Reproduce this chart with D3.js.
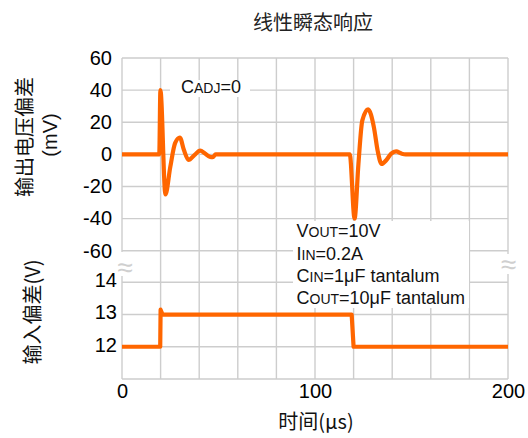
<!DOCTYPE html>
<html><head><meta charset="utf-8">
<script src="https://cdn.jsdelivr.net/npm/d3@7"></script>
<style>
html,body{margin:0;padding:0;background:#fff;}
svg{display:block;}
</style></head>
<body>
<svg id="c" width="528" height="438"></svg>
<script>
// ---- data ----
const chartTitle = "线性瞬态响应";
const xTitle = "时间(μs)";
const yTitleTop = ["输出电压偏差", "(mV)"];
const yTitleBottom = "输入偏差(V)";
const xTicksLabeled = [0, 100, 200];
const xGridTicks = [0, 20, 40, 60, 80, 100, 120, 140, 160, 180, 200];
const topTicks = [60, 40, 20, 0, -20, -40, -60];
const bottomTicks = [14, 13, 12];
const bottomGrid = [14, 13, 12, 11];
// output voltage deviation (mV) vs time (µs)
const outTime = [0, 19.3, 19.9, 22.5, 25, 27.5, 30, 32, 34.5, 37.5, 40.5, 43, 45.5, 47, 48.5, 118, 120.5, 122.5, 124.5, 127.5, 130.5, 132.5, 134.5, 137, 139.5, 142, 145, 147, 200];
const outDev  = [0, 0, 40, -25, -8, 7, 10.5, 3, -3.5, -0.5, 2.3, 0.5, -1.5, -1.8, 0, 0, -40, -6, 21, 28, 17, 2, -6, -3.5, 0.5, 1.8, 0.4, 0, 0];
// input voltage (V) vs time (µs)
const inTime = [0, 19.8, 20, 21, 119, 120, 200];
const inVolt = [12, 12, 13.15, 13, 13, 12, 12];
const condLines = [["V","OUT","=10V"],["I","IN","=0.2A"],["C","IN","=1μF tantalum"],["C","OUT","=10μF tantalum"]];
const cadjLabel = ["C","ADJ","=0"];

// ---- layout ----
const svg = d3.select("#c");
const L = 122, R = 508, T = 58, B = 379;
const x = d3.scaleLinear().domain([0, 200]).range([L, R]);
const yTop = d3.scaleLinear().domain([-60, 60]).range([250.7, T]);
const yBot = d3.scaleLinear().domain([11, 14]).range([B, 282.3]);
const gridColor = "#cdcdcd";
const orange = "#ff6600";
const numFont = "'Liberation Sans', Arial, sans-serif";
const cjkFont = "'Noto Sans CJK SC', 'Liberation Sans', sans-serif";
const fmt = d => String(d);

// grid
const grid = svg.append("g").attr("stroke", gridColor).attr("stroke-width", 1.4);
grid.selectAll("line.v").data(xGridTicks).join("line").attr("class","v")
  .attr("x1", d => x(d)).attr("x2", d => x(d)).attr("y1", T).attr("y2", B);
grid.selectAll("line.ht").data(topTicks).join("line").attr("class","ht")
  .attr("x1", L).attr("x2", R).attr("y1", d => yTop(d)).attr("y2", d => yTop(d));
grid.selectAll("line.hb").data(bottomGrid).join("line").attr("class","hb")
  .attr("x1", L).attr("x2", R).attr("y1", d => yBot(d)).attr("y2", d => yBot(d));

// break marks
[[125, 268, 252, 276], [508.5, 265, 254, 274]].forEach(([cx, cy, y0, y1]) => {
  svg.append("rect").attr("x", cx - 8).attr("y", y0).attr("width", 16).attr("height", y1 - y0).attr("fill", "#fff");
  svg.append("text").attr("x", cx).attr("y", cy + 9).attr("text-anchor", "middle")
    .attr("font-family", numFont).attr("font-size", 28).attr("fill", "#cfcfcf").text("≈");
});

// annotation boxes
svg.append("rect").attr("x", 170).attr("y", 80).attr("width", 80).attr("height", 17).attr("fill", "#fff");
svg.append("rect").attr("x", 293).attr("y", 221).attr("width", 176).attr("height", 87).attr("fill", "#fff");

function smallCaps(parts, xx, yy, big, small) {
  const t = svg.append("text").attr("x", xx).attr("y", yy).attr("font-family", numFont).attr("fill", "#111");
  t.append("tspan").attr("font-size", big).text(parts[0]);
  t.append("tspan").attr("font-size", small).text(parts[1]);
  t.append("tspan").attr("font-size", big).text(parts[2]);
}
smallCaps(cadjLabel, 181, 93, 18, 14);
const lineYs = [237, 260, 282, 304];
condLines.forEach((p, i) => smallCaps(p, 296.5, lineYs[i], 18, 14));

// lines
const outData = outTime.map((t, i) => [t, outDev[i]]);
const inData = inTime.map((t, i) => [t, inVolt[i]]);
svg.append("path").datum(outData)
  .attr("d", d3.line().x(d => x(d[0])).y(d => yTop(d[1])).curve(d3.curveMonotoneX))
  .attr("fill", "none").attr("stroke", orange).attr("stroke-width", 4.2).attr("stroke-linejoin", "round");
svg.append("path").datum(inData)
  .attr("d", d3.line().x(d => x(d[0])).y(d => yBot(d[1])))
  .attr("fill", "none").attr("stroke", orange).attr("stroke-width", 4.2).attr("stroke-linejoin", "round");

// axes (labels only)
function styleAxis(g) {
  g.select(".domain").remove();
  g.selectAll("line").remove();
  g.selectAll("text").attr("font-family", numFont).attr("font-size", 20).attr("fill", "#000");
}
svg.append("g").attr("transform", `translate(${L},0)`)
  .call(d3.axisLeft(yTop).tickValues(topTicks).tickSize(0).tickPadding(10).tickFormat(fmt))
  .call(styleAxis);
svg.append("g").attr("transform", `translate(${L},-2)`)
  .call(d3.axisLeft(yBot).tickValues(bottomTicks).tickSize(0).tickPadding(5).tickFormat(fmt))
  .call(styleAxis);
svg.append("g").attr("transform", `translate(0,${B})`)
  .call(d3.axisBottom(x).tickValues(xTicksLabeled).tickSize(0).tickPadding(5).tickFormat(fmt))
  .call(styleAxis);

// titles
svg.append("text").attr("x", 313).attr("y", 30).attr("text-anchor", "middle")
  .attr("font-family", cjkFont).attr("font-size", 20).attr("fill", "#222").text(chartTitle);
svg.append("text").attr("x", 316).attr("y", 429).attr("text-anchor", "middle")
  .attr("font-family", cjkFont).attr("font-size", 20).attr("fill", "#111").text(xTitle);
svg.append("text").attr("transform", "translate(32,137) rotate(-90)").attr("text-anchor", "middle")
  .attr("font-family", cjkFont).attr("font-size", 20).attr("fill", "#111").text(yTitleTop[0]);
svg.append("text").attr("transform", "translate(57,135) rotate(-90)").attr("text-anchor", "middle")
  .attr("font-family", numFont).attr("font-size", 20).attr("fill", "#111").text(yTitleTop[1]);
svg.append("text").attr("transform", "translate(40,312) rotate(-90)").attr("text-anchor", "middle")
  .attr("font-family", cjkFont).attr("font-size", 20).attr("fill", "#111").text(yTitleBottom);
</script>
</body></html>
